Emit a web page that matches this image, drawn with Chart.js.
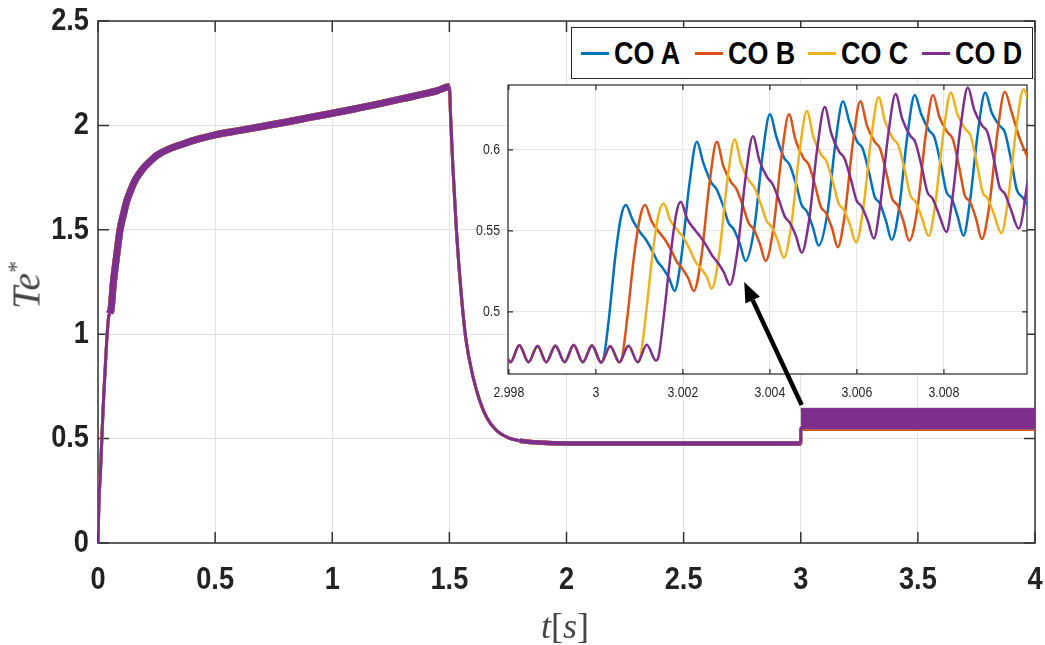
<!DOCTYPE html>
<html>
<head>
<meta charset="utf-8">
<script src="https://cdn.jsdelivr.net/npm/chart.js@4.4.1/dist/chart.umd.min.js"></script>
<style>
  html, body { margin: 0; padding: 0; background: #fff; }
  #wrap { position: relative; width: 1045px; height: 645px; overflow: hidden; }
  canvas { position: absolute; }
  #main { left: 0; top: 0; }
  #inset { left: 460px; top: 80px; }
  #arrow { left: 0; top: 0; pointer-events: none; }
  #ytitle { position: absolute; left: 26px; top: 285px; transform: translate(-50%, -50%) rotate(-90deg);
            font: italic 40px 'Liberation Serif', serif; color: #454545; white-space: nowrap; }
  #ytitle sup { font-size: 0.6em; vertical-align: 0.65em; font-style: normal; }
  #xtitle { position: absolute; left: 565px; top: 626px; transform: translate(-50%, -50%);
            font: italic 36px 'Liberation Serif', serif; color: #454545; white-space: nowrap; }
  #xtitle .up { font-style: normal; }
  #legend { position: absolute; left: 571px; top: 27px; width: 462px; height: 52px; background: #fff;
            border: 1px solid #262626; box-sizing: border-box;
            font: bold 32px 'Liberation Sans', Arial, sans-serif; color: #000; }
  #legend .item { position: absolute; top: 0; height: 50px; display: flex; align-items: center; white-space: nowrap; }
  #legend .swatch { width: 28px; height: 3px; margin-right: 5px; }
  #legend .name { display: inline-block; transform: scaleX(0.84); transform-origin: left center; }
</style>
</head>
<body>
<div id="wrap">
  <canvas id="main" width="1045" height="645"></canvas>
  <canvas id="inset" width="575" height="330"></canvas>
  <canvas id="arrow" width="1045" height="645"></canvas>
  <div id="ytitle">Te<sup>*</sup></div>
  <div id="xtitle">t<span class="up">[</span>s<span class="up">]</span></div>
  <div id="legend"></div>
</div>
<script>
// controllers and their colours
const seriesNames = ['CO A', 'CO B', 'CO C', 'CO D'];
const seriesColors = ['#0072BD', '#D95319', '#EDB120', '#7E2F8E'];

// tick labels
const mainXTicks = [0, 0.5, 1, 1.5, 2, 2.5, 3, 3.5, 4];
const mainYTicks = [0, 0.5, 1, 1.5, 2, 2.5];
const insetXTicks = [2.998, 3, 3.002, 3.004, 3.006, 3.008];
const insetYTicks = [0.5, 0.55, 0.6];

// main plot: the four controllers overlap up to 3 s
const mainTime = [0, 0.004, 0.01, 0.016, 0.025, 0.037, 0.045, 0.05, 0.056, 0.065, 0.08, 0.094, 0.11, 0.122,
  0.14, 0.16, 0.19, 0.22, 0.25, 0.3, 0.36, 0.43, 0.5, 0.6, 0.7, 0.8, 0.9, 1.0, 1.1, 1.2, 1.3, 1.4, 1.45, 1.5,
  1.505, 1.515, 1.53, 1.55, 1.57, 1.6, 1.63, 1.66, 1.7, 1.75, 1.8, 1.9, 2.0, 2.5, 3.0];
const mainTe = [0, 0.2, 0.33, 0.49, 0.72, 0.965, 1.08, 1.1, 1.12, 1.24, 1.38, 1.5, 1.58, 1.635,
  1.69, 1.74, 1.79, 1.825, 1.855, 1.885, 1.91, 1.935, 1.955, 1.975, 1.995, 2.015, 2.037, 2.058, 2.08, 2.103, 2.128, 2.153, 2.167, 2.185,
  2.05, 1.8, 1.5, 1.2, 0.98, 0.8, 0.68, 0.6, 0.54, 0.505, 0.49, 0.48, 0.477, 0.476, 0.476];

// after the load step (3 s) each controller ripples inside a band
const bandTime = [3.0002, 4.0];
const bandLow = [0.549, 0.544, 0.550, 0.551];
const bandHigh = [0.636, 0.637, 0.639, 0.645];

// zoom: ripple before the step (common to all)
const baseRipple = [[2.99798, 0.4708], [2.99804, 0.4690], [2.99824, 0.4795], [2.99845, 0.4690], [2.99866, 0.4790],
  [2.99886, 0.4690], [2.99907, 0.4792], [2.99928, 0.4690], [2.99949, 0.4796], [2.99970, 0.4690], [2.99991, 0.4793],
  [3.00012, 0.4688], [3.00033, 0.4788], [3.00054, 0.4690], [3.00075, 0.4792], [3.00096, 0.4690], [3.00117, 0.4797],
  [3.00138, 0.4700]];
const stepStart = [3.00012, 3.00054, 3.00096, 3.00138];

const stepA = [[3.00018, 0.4715], [3.00030, 0.4960], [3.00045, 0.5350], [3.00058, 0.5590], [3.00069, 0.5660],
  [3.00084, 0.5570], [3.00102, 0.5490], [3.00114, 0.5450], [3.00129, 0.5380], [3.00142, 0.5310], [3.00154, 0.5270], [3.00168, 0.5210], [3.00181, 0.5130], [3.00196, 0.5330], [3.00215, 0.5790], [3.00232, 0.6050],
  [3.00247, 0.5920], [3.00265, 0.5800], [3.00277, 0.5760], [3.00292, 0.5660], [3.00305, 0.5550], [3.00317, 0.5510], [3.00331, 0.5420], [3.00344, 0.5315], [3.00364, 0.5515], [3.00383, 0.5967], [3.00400, 0.6220],
  [3.00415, 0.6080], [3.00433, 0.5950], [3.00445, 0.5910], [3.00460, 0.5790], [3.00473, 0.5660], [3.00485, 0.5620], [3.00499, 0.5520], [3.00512, 0.5410], [3.00532, 0.5606], [3.00551, 0.6051], [3.00568, 0.6300],
  [3.00583, 0.6170], [3.00601, 0.6050], [3.00613, 0.6010], [3.00628, 0.5860], [3.00641, 0.5710], [3.00653, 0.5670], [3.00667, 0.5560], [3.00680, 0.5445], [3.00697, 0.5640], [3.00716, 0.6089], [3.00733, 0.6340],
  [3.00748, 0.6220], [3.00766, 0.6120], [3.00778, 0.6080], [3.00793, 0.5910], [3.00806, 0.5740], [3.00818, 0.5700], [3.00832, 0.5585], [3.00845, 0.5470], [3.00859, 0.5665], [3.00878, 0.6107], [3.00895, 0.6355],
  [3.00910, 0.6230], [3.00928, 0.6150], [3.00940, 0.6110], [3.00955, 0.5930], [3.00968, 0.5750], [3.00980, 0.5710], [3.00995, 0.5650]];

const stepB = [[3.00060, 0.4715], [3.00072, 0.4960], [3.00088, 0.5350], [3.00102, 0.5590], [3.00113, 0.5660],
  [3.00128, 0.5560], [3.00146, 0.5490], [3.00158, 0.5450], [3.00173, 0.5380], [3.00186, 0.5310], [3.00198, 0.5270], [3.00212, 0.5210], [3.00225, 0.5130], [3.00242, 0.5330], [3.00261, 0.5790], [3.00278, 0.6050],
  [3.00293, 0.5900], [3.00311, 0.5800], [3.00323, 0.5760], [3.00338, 0.5655], [3.00351, 0.5550], [3.00363, 0.5510], [3.00377, 0.5420], [3.00390, 0.5315], [3.00408, 0.5514], [3.00427, 0.5967], [3.00444, 0.6220],
  [3.00459, 0.6060], [3.00477, 0.5950], [3.00489, 0.5910], [3.00504, 0.5780], [3.00517, 0.5650], [3.00529, 0.5610], [3.00543, 0.5515], [3.00556, 0.5400], [3.00572, 0.5598], [3.00591, 0.6048], [3.00608, 0.6300],
  [3.00623, 0.6150], [3.00641, 0.6050], [3.00653, 0.6010], [3.00668, 0.5855], [3.00681, 0.5700], [3.00693, 0.5660], [3.00707, 0.5560], [3.00720, 0.5440], [3.00739, 0.5638], [3.00758, 0.6088], [3.00775, 0.6340],
  [3.00790, 0.6200], [3.00808, 0.6110], [3.00820, 0.6070], [3.00835, 0.5895], [3.00848, 0.5720], [3.00860, 0.5680], [3.00874, 0.5575], [3.00887, 0.5450], [3.00904, 0.5650], [3.00923, 0.6105], [3.00940, 0.6360],
  [3.00955, 0.6240], [3.00973, 0.6080], [3.00985, 0.6000], [3.00995, 0.5940]];

const stepC = [[3.00102, 0.4715], [3.00114, 0.4960], [3.00130, 0.5350], [3.00144, 0.5600], [3.00156, 0.5670],
  [3.00171, 0.5566], [3.00189, 0.5500], [3.00201, 0.5460], [3.00216, 0.5385], [3.00229, 0.5310], [3.00241, 0.5270], [3.00255, 0.5217], [3.00266, 0.5144], [3.00283, 0.5347], [3.00302, 0.5807], [3.00319, 0.6065],
  [3.00334, 0.5914], [3.00352, 0.5810], [3.00364, 0.5770], [3.00379, 0.5668], [3.00392, 0.5565], [3.00404, 0.5525], [3.00418, 0.5440], [3.00432, 0.5335], [3.00449, 0.5534], [3.00468, 0.5987], [3.00485, 0.6240],
  [3.00500, 0.6080], [3.00518, 0.5970], [3.00530, 0.5930], [3.00545, 0.5800], [3.00558, 0.5670], [3.00570, 0.5630], [3.00584, 0.5539], [3.00598, 0.5428], [3.00614, 0.5625], [3.00633, 0.6074], [3.00650, 0.6325],
  [3.00665, 0.6174], [3.00683, 0.6070], [3.00695, 0.6030], [3.00710, 0.5875], [3.00723, 0.5720], [3.00735, 0.5680], [3.00749, 0.5585], [3.00765, 0.5469], [3.00780, 0.5664], [3.00799, 0.6107], [3.00816, 0.6355],
  [3.00831, 0.6220], [3.00849, 0.6130], [3.00861, 0.6090], [3.00876, 0.5915], [3.00889, 0.5740], [3.00901, 0.5700], [3.00915, 0.5603], [3.00932, 0.5486], [3.00947, 0.5682], [3.00966, 0.6126], [3.00983, 0.6375],
  [3.00995, 0.6300]];

const stepD = [[3.00144, 0.4725], [3.00156, 0.4970], [3.00172, 0.5360], [3.00185, 0.5610], [3.00195, 0.5680],
  [3.00210, 0.5573], [3.00228, 0.5505], [3.00240, 0.5465], [3.00255, 0.5405], [3.00268, 0.5345], [3.00280, 0.5305], [3.00294, 0.5246], [3.00308, 0.5167], [3.00325, 0.5369], [3.00344, 0.5828], [3.00361, 0.6085],
  [3.00376, 0.5934], [3.00394, 0.5830], [3.00406, 0.5790], [3.00421, 0.5690], [3.00434, 0.5590], [3.00446, 0.5550], [3.00460, 0.5468], [3.00473, 0.5366], [3.00490, 0.5564], [3.00509, 0.6013], [3.00526, 0.6265],
  [3.00541, 0.6103], [3.00559, 0.5990], [3.00571, 0.5950], [3.00586, 0.5820], [3.00599, 0.5690], [3.00611, 0.5650], [3.00625, 0.5562], [3.00639, 0.5453], [3.00653, 0.5649], [3.00672, 0.6095], [3.00689, 0.6345],
  [3.00704, 0.6194], [3.00722, 0.6090], [3.00734, 0.6050], [3.00749, 0.5895], [3.00762, 0.5740], [3.00774, 0.5700], [3.00788, 0.5607], [3.00806, 0.5494], [3.00819, 0.5690], [3.00838, 0.6136], [3.00855, 0.6385],
  [3.00870, 0.6245], [3.00888, 0.6150], [3.00900, 0.6110], [3.00915, 0.5940], [3.00928, 0.5770], [3.00940, 0.5730], [3.00954, 0.5632], [3.00972, 0.5514], [3.00995, 0.5850]];

// arrow: from the main band (main axes) to the zoom (inset axes)
const arrowFrom = [3.004, 0.661];
const arrowTo = [3.00341, 0.5185];

const insetLeft = 460, insetTop = 80;

// white plot area, MATLAB style box with inward ticks, narrow tick labels
function squeezed(ctx, s, x, y, align, k) {
  ctx.save();
  ctx.translate(x, y);
  ctx.scale(k, 1);
  ctx.textAlign = align;
  ctx.fillText(s, 0, 0);
  ctx.restore();
}

const boxTicks = {
  id: 'boxTicks',
  beforeDraw(chart) {
    const a = chart.chartArea, ctx = chart.ctx;
    ctx.save();
    ctx.fillStyle = '#fff';
    ctx.fillRect(a.left, a.top, a.right - a.left, a.bottom - a.top);
    ctx.restore();
  },
  beforeDatasetsDraw(chart, args, opts) {
    const { ctx, chartArea: a, scales: { x, y } } = chart;
    ctx.save();
    ctx.strokeStyle = opts.color;
    ctx.lineWidth = opts.width;
    ctx.beginPath();
    x.ticks.forEach(t => {
      const px = x.getPixelForValue(t.value);
      ctx.moveTo(px, a.bottom); ctx.lineTo(px, a.bottom - opts.len);
      ctx.moveTo(px, a.top); ctx.lineTo(px, a.top + opts.len);
    });
    y.ticks.forEach(t => {
      const py = y.getPixelForValue(t.value);
      ctx.moveTo(a.left, py); ctx.lineTo(a.left + opts.len, py);
      ctx.moveTo(a.right, py); ctx.lineTo(a.right - opts.len, py);
    });
    ctx.stroke();
    ctx.strokeRect(a.left, a.top, a.right - a.left, a.bottom - a.top);
    ctx.restore();
  },
  afterDraw(chart, args, opts) {
    const { ctx, chartArea: a, scales: { x, y } } = chart;
    ctx.save();
    ctx.fillStyle = opts.labelColor;
    ctx.font = opts.font;
    ctx.textBaseline = 'middle';
    x.ticks.forEach(t => squeezed(ctx, String(t.value), x.getPixelForValue(t.value), a.bottom + opts.xGap, 'center', opts.squeeze));
    y.ticks.forEach(t => squeezed(ctx, String(t.value), a.left - opts.yGap, y.getPixelForValue(t.value), 'right', opts.squeeze));
    ctx.restore();
  }
};

function fixWidth(w) {
  return s => { s.width = w; s.paddingTop = 0; s.paddingBottom = 0; s.paddingLeft = 0; s.paddingRight = 0; };
}
function fixHeight(h) {
  return s => { s.height = h; s.paddingTop = 0; s.paddingBottom = 0; s.paddingLeft = 0; s.paddingRight = 0; };
}

function segWidth(c) {
  const x0 = c.p0.parsed.x;
  if (x0 >= 0.05 && x0 < 1.5) return 7;
  if (x0 >= 1.8 && x0 < 3) return 4.5;
  return 3;
}

const mainDatasets = [];
seriesNames.forEach((name, i) => {
  const order = (4 - i) * 2;
  mainDatasets.push({
    label: name,
    data: mainTime.map((t, k) => [t, mainTe[k]]).concat(bandTime.map(t => [t, bandLow[i]])),
    borderColor: seriesColors[i],
    borderWidth: 3,
    pointRadius: 0,
    fill: false,
    cubicInterpolationMode: 'monotone',
    order: order,
    segment: { borderWidth: segWidth }
  });
  mainDatasets.push({
    label: name + ' band',
    data: bandTime.map(t => [t, bandHigh[i]]),
    borderColor: seriesColors[i],
    backgroundColor: seriesColors[i],
    borderWidth: 1,
    pointRadius: 0,
    fill: { value: bandLow[i] },
    order: order - 1
  });
});

const mainChart = new Chart(document.getElementById('main'), {
  type: 'line',
  data: { datasets: mainDatasets },
  plugins: [boxTicks],
  options: {
    responsive: false,
    animation: false,
    devicePixelRatio: 1,
    events: [],
    layout: { padding: { left: 0, right: 10, top: 21, bottom: 0 } },
    plugins: {
      legend: { display: false },
      tooltip: { enabled: false },
      boxTicks: { color: '#333', width: 1.5, len: 11, labelColor: '#222',
                  font: "bold 32px 'Liberation Sans', Arial, sans-serif", squeeze: 0.85, xGap: 37, yGap: 9 }
    },
    scales: {
      x: {
        type: 'linear', min: 0, max: 4,
        afterBuildTicks: s => { s.ticks = mainXTicks.map(v => ({ value: v })); },
        afterFit: fixHeight(102),
        grid: { color: '#e2e2e2', drawTicks: false },
        border: { display: false },
        ticks: { display: false }
      },
      y: {
        type: 'linear', min: 0, max: 2.5,
        afterBuildTicks: s => { s.ticks = mainYTicks.map(v => ({ value: v })); },
        afterFit: fixWidth(98),
        grid: { color: '#e2e2e2', drawTicks: false },
        border: { display: false },
        ticks: { display: false }
      }
    }
  }
});

const insetSteps = [stepA, stepB, stepC, stepD];
const insetDatasets = seriesNames.map((name, i) => ({
  label: name,
  data: baseRipple.filter(p => p[0] <= stepStart[i]).concat(insetSteps[i]),
  borderColor: seriesColors[i],
  borderWidth: 2.5,
  pointRadius: 0,
  fill: false,
  cubicInterpolationMode: 'monotone',
  order: 4 - i
}));

const insetChart = new Chart(document.getElementById('inset'), {
  type: 'line',
  data: { datasets: insetDatasets },
  plugins: [boxTicks],
  options: {
    responsive: false,
    animation: false,
    devicePixelRatio: 1,
    events: [],
    layout: { padding: { left: 0, right: 8, top: 5, bottom: 0 } },
    plugins: {
      legend: { display: false },
      tooltip: { enabled: false },
      boxTicks: { color: '#262626', width: 1.2, len: 5, labelColor: '#262626',
                  font: "15px 'Liberation Sans', Arial, sans-serif", squeeze: 0.82, xGap: 19, yGap: 8 }
    },
    scales: {
      x: {
        type: 'linear', min: 2.99798, max: 3.00991,
        afterBuildTicks: s => { s.ticks = insetXTicks.map(v => ({ value: v })); },
        afterFit: fixHeight(36),
        grid: { color: '#e6e6e6', drawTicks: false },
        border: { display: false },
        ticks: { display: false }
      },
      y: {
        type: 'linear', min: 0.4617, max: 0.6401,
        afterBuildTicks: s => { s.ticks = insetYTicks.map(v => ({ value: v })); },
        afterFit: fixWidth(48),
        grid: { color: '#e6e6e6', drawTicks: false },
        border: { display: false },
        ticks: { display: false }
      }
    }
  }
});

// legend
const legend = document.getElementById('legend');
seriesNames.forEach((name, i) => {
  const item = document.createElement('div');
  item.className = 'item';
  item.style.left = (9 + i * 113.5) + 'px';
  const sw = document.createElement('span');
  sw.className = 'swatch';
  sw.style.background = seriesColors[i];
  const tx = document.createElement('span');
  tx.className = 'name';
  tx.textContent = name;
  item.appendChild(sw);
  item.appendChild(tx);
  legend.appendChild(item);
});

// arrow
const ac = document.getElementById('arrow').getContext('2d');
const x0 = mainChart.scales.x.getPixelForValue(arrowFrom[0]);
const y0 = mainChart.scales.y.getPixelForValue(arrowFrom[1]);
const x1 = insetLeft + insetChart.scales.x.getPixelForValue(arrowTo[0]);
const y1 = insetTop + insetChart.scales.y.getPixelForValue(arrowTo[1]);
const ang = Math.atan2(y1 - y0, x1 - x0);
const headLen = 20, headHalf = 8;
const bx = x1 - headLen * Math.cos(ang), by = y1 - headLen * Math.sin(ang);
ac.strokeStyle = '#000';
ac.fillStyle = '#000';
ac.lineWidth = 4.5;
ac.beginPath();
ac.moveTo(x0, y0);
ac.lineTo(bx, by);
ac.stroke();
ac.beginPath();
ac.moveTo(x1, y1);
ac.lineTo(bx + headHalf * Math.sin(ang), by - headHalf * Math.cos(ang));
ac.lineTo(bx - headHalf * Math.sin(ang), by + headHalf * Math.cos(ang));
ac.closePath();
ac.fill();
</script>
</body>
</html>
